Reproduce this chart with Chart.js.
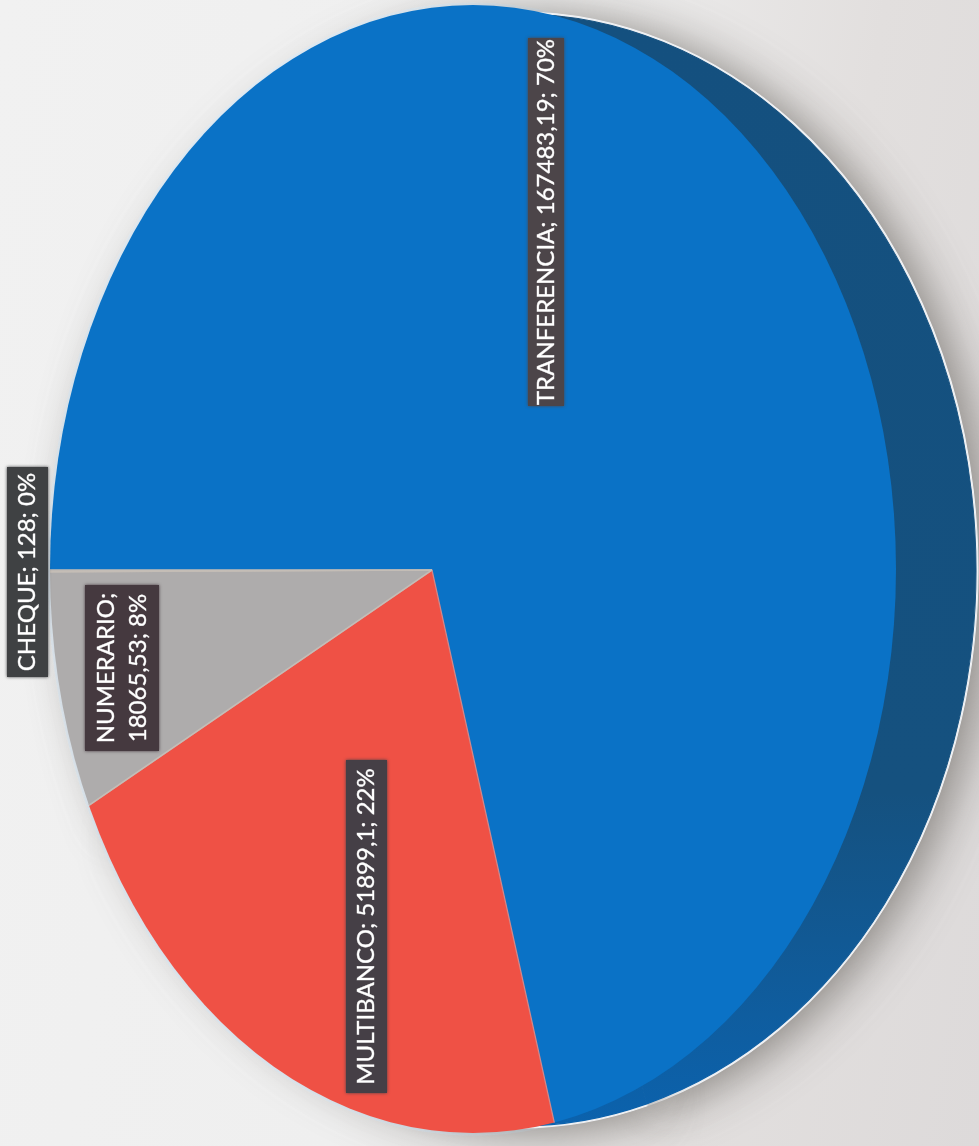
<!DOCTYPE html>
<html>
<head>
<meta charset="utf-8">
<style>
html,body{margin:0;padding:0;width:979px;height:1146px;overflow:hidden;
background:linear-gradient(100deg,#f1f1f1 0%,#efefef 45%,#e2dfde 75%,#dddada 100%);}
canvas{display:block}
</style>
<script src="https://cdn.jsdelivr.net/npm/chart.js@4/dist/chart.umd.min.js"></script>
</head>
<body>
<canvas id="c" width="979" height="1146"></canvas>
<script>
const categories = ["TRANFERENCIA", "MULTIBANCO", "NUMERARIO", "CHEQUE"];
const values = [167483.19, 51899.1, 18065.53, 128];
const sliceColors = ["#0a72c6", "#ef5145", "#aeacac", "#aeacac"];
const sliceEdges = ["#0a72c6", "#d0888a", "#c4bdb6", "#c4bdb6"];

const FACE = {cx: 473, cy: 569, rx: 423, ry: 564};
const DEPTH = {cx: 519, cy: 570, rx: 457, ry: 556};
const HALO = {grow: 2, depth: "#f1f3f6", face: "#e6f1fa"};
const APEX = {cx: 432, cy: 570, rx: 609, ry: 800};
const FONT = '24px Lato, "Open Sans", sans-serif';
const LABEL_BOXES = [
  {x: 528, y: 38, w: 36, h: 368, fill: "#4c4549", lines: [0]},
  {x: 346, y: 760, w: 41, h: 333, fill: "#453f46", lines: [1]},
  {x: 85, y: 585, w: 74, h: 166, fill: "#45393f", split: true, index: 2},
  {x: 7, y: 467, w: 41, h: 210, fill: "#3f4143", lines: [3]}
];

const total = values.reduce((a, b) => a + b, 0);
const labelParts = i => [
  categories[i] + ";",
  String(values[i]).replace(".", ",") + "; " + Math.round(values[i] / total * 100) + "%"
];

function paintArcs(chart, ctx, target, fillFor, edgeFor) {
  const meta = chart.getDatasetMeta(0);
  ctx.save();
  const a0 = meta.data[0];
  const R = a0.outerRadius;
  ctx.translate(target.cx, target.cy);
  ctx.scale(target.rx / R, target.ry / R);
  ctx.translate(-a0.x, -a0.y);
  meta.data.forEach((arc, i) => {
    const saved = arc.options;
    const o = Object.create(saved);
    o.backgroundColor = fillFor(i);
    o.borderColor = edgeFor ? edgeFor(i) : fillFor(i);
    o.borderWidth = 1;
    arc.options = o;
    arc.draw(ctx);
    arc.options = saved;
  });
  ctx.restore();
}

const skewPie = {
  id: "skewPie",
  beforeDatasetsDraw(chart) {
    const ctx = chart.ctx;
    const a0 = chart.getDatasetMeta(0).data[0];
    const shade = ctx.createLinearGradient(0, a0.y - a0.outerRadius, 0, a0.y + a0.outerRadius);
    shade.addColorStop(0, "#14507f");
    shade.addColorStop(0.7, "#15517f");
    shade.addColorStop(0.9, "#0f5d9f");
    shade.addColorStop(1, "#0b62ad");

    paintArcs(chart, ctx, {cx: FACE.cx, cy: FACE.cy, rx: FACE.rx + HALO.grow, ry: FACE.ry + HALO.grow}, () => HALO.face);

    ctx.save();
    ctx.shadowColor = "rgba(110,105,100,0.75)";
    ctx.shadowBlur = 45;
    ctx.shadowOffsetX = 10;
    ctx.shadowOffsetY = 4;
    paintArcs(chart, ctx, {cx: DEPTH.cx, cy: DEPTH.cy, rx: DEPTH.rx + HALO.grow, ry: DEPTH.ry + HALO.grow}, () => HALO.depth);
    ctx.restore();

    paintArcs(chart, ctx, DEPTH, () => shade);

    ctx.save();
    ctx.beginPath();
    ctx.ellipse(FACE.cx, FACE.cy, FACE.rx, FACE.ry, 0, 0, Math.PI * 2);
    ctx.clip();
    paintArcs(chart, ctx, APEX, i => sliceColors[i], i => sliceEdges[i]);
    ctx.restore();
    return false;
  },
  afterDraw(chart) {
    const ctx = chart.ctx;
    LABEL_BOXES.forEach(b => {
      ctx.save();
      ctx.shadowColor = b.fill;
      ctx.shadowBlur = 3;
      ctx.fillStyle = b.fill;
      ctx.fillRect(b.x, b.y, b.w, b.h);
      ctx.restore();
      ctx.save();
      ctx.translate(b.x + b.w / 2, b.y + b.h / 2);
      ctx.rotate(-Math.PI / 2);
      ctx.font = FONT;
      ctx.fillStyle = "#ffffff";
      ctx.strokeStyle = "rgba(255,255,255,0.7)";
      ctx.lineWidth = 0.5;
      ctx.textAlign = "center";
      ctx.textBaseline = "middle";
      const put = (t, y) => { ctx.strokeText(t, 0, y); ctx.fillText(t, 0, y); };
      if (b.split) {
        const p = labelParts(b.index);
        put(p[0], -16);
        put(p[1], 16);
      } else {
        put(labelParts(b.lines[0]).join(" "), 0);
      }
      ctx.restore();
    });
  }
};

new Chart(document.getElementById("c"), {
  type: "pie",
  data: {
    labels: categories,
    datasets: [{data: values, backgroundColor: sliceColors, borderWidth: 0}]
  },
  options: {
    responsive: false,
    animation: false,
    rotation: -90,
    layout: {padding: 0},
    plugins: {legend: {display: false}, tooltip: {enabled: false}}
  },
  plugins: [skewPie]
});
</script>
</body>
</html>
